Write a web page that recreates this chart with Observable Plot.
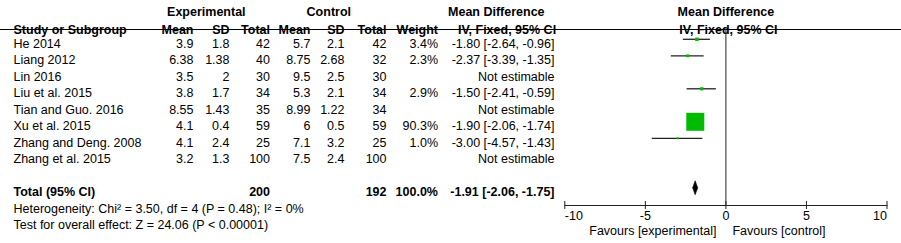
<!DOCTYPE html>
<html>
<head>
<meta charset="utf-8">
<script src="https://cdn.jsdelivr.net/npm/d3@7"></script>
<script src="https://cdn.jsdelivr.net/npm/@observablehq/plot@0.6"></script>
<style>
  html, body { margin: 0; padding: 0; background: #fff; }
  #chart svg { display: block; }
</style>
</head>
<body>
<div id="chart"></div>
<script>
// ---------- data ----------
const studies   = ["He 2014", "Liang 2012", "Lin 2016", "Liu et al. 2015", "Tian and Guo. 2016", "Xu et al. 2015", "Zhang and Deng. 2008", "Zhang et al. 2015"];
const expMean   = [3.9, 6.38, 3.5, 3.8, 8.55, 4.1, 4.1, 3.2];
const expSD     = [1.8, 1.38, 2, 1.7, 1.43, 0.4, 2.4, 1.3];
const expTotal  = [42, 40, 30, 34, 35, 59, 25, 100];
const ctlMean   = [5.7, 8.75, 9.5, 5.3, 8.99, 6, 7.1, 7.5];
const ctlSD     = [2.1, 2.68, 2.5, 2.1, 1.22, 0.5, 3.2, 2.4];
const ctlTotal  = [42, 32, 30, 34, 34, 59, 25, 100];
const weight    = [3.4, 2.3, null, 2.9, null, 90.3, 1.0, null];
const meanDiff  = [-1.80, -2.37, null, -1.50, null, -1.90, -3.00, null];
const ciLow     = [-2.64, -3.39, null, -2.41, null, -2.06, -4.57, null];
const ciHigh    = [-0.96, -1.35, null, -0.59, null, -1.74, -1.43, null];

const totalLabel   = "Total (95% CI)";
const totalExp     = 200;
const totalCtl     = 192;
const totalWeight  = 100.0;
const totalMD      = -1.91;
const totalLow     = -2.06;
const totalHigh    = -1.75;
const heterogeneity = "Heterogeneity: Chi\u00B2 = 3.50, df = 4 (P = 0.48); I\u00B2 = 0%";
const overallEffect = "Test for overall effect: Z = 24.06 (P < 0.00001)";

const axisTicks   = [-10, -5, 0, 5, 10];
const favoursLeft  = "Favours [experimental]";
const favoursRight = "Favours [control]";

const headerGroups = ["Experimental", "Control", "Mean Difference", "Mean Difference"];
const headerCols   = ["Study or Subgroup", "Mean", "SD", "Total", "Mean", "SD", "Total", "Weight", "IV, Fixed, 95% CI", "IV, Fixed, 95% CI"];

// ---------- build table ----------
const fmt2 = v => v.toFixed(2);
const rows = studies.map((s, i) => ({
  i, study: s,
  expMean: expMean[i], expSD: expSD[i], expTotal: expTotal[i],
  ctlMean: ctlMean[i], ctlSD: ctlSD[i], ctlTotal: ctlTotal[i],
  weight: weight[i], md: meanDiff[i], lo: ciLow[i], hi: ciHigh[i],
  mdText: meanDiff[i] == null ? "Not estimable" : `${fmt2(meanDiff[i])} [${fmt2(ciLow[i])}, ${fmt2(ciHigh[i])}]`,
  wText: weight[i] == null ? "" : `${weight[i].toFixed(1)}%`
}));
const estimable = rows.filter(d => d.md != null);
const totalRow = studies.length + 1;   // one blank row after studies
const totalData = [{
  i: totalRow, label: totalLabel, exp: totalExp, ctl: totalCtl,
  wText: `${totalWeight.toFixed(1)}%`,
  mdText: `${fmt2(totalMD)} [${fmt2(totalLow)}, ${fmt2(totalHigh)}]`
}];
const footRows = [{i: totalRow + 1, text: heterogeneity}, {i: totalRow + 2, text: overallEffect}];

// ---------- layout ----------
const W = 901, H = 243;
const marginTop = 29, marginBottom = 38;
const rowStep = 16.5, firstRowY = 43.3;
const xRange = [564.3, 886.5];
const markDy = -4.5;
const frameH = H - marginTop - marginBottom;
// column anchors (pixels from left)
const col = {study: 13, expMean: 193, expSD: 229, expTotal: 269.5, ctlMean: 310, ctlSD: 344, ctlTotal: 386, weight: 437.5, md: 554};
const font = "'Liberation Sans', Arial, sans-serif";
const green = "#00bb00";
const maxW = d3.max(weight);
const maxSide = 18;
const diamondHalf = 7 / rowStep;   // half height of summary diamond, in rows

const diamond = [
  {x: totalLow, y: totalRow},
  {x: totalMD, y: totalRow - diamondHalf},
  {x: totalHigh, y: totalRow},
  {x: totalMD, y: totalRow + diamondHalf},
  {x: totalLow, y: totalRow}
];

const colText = (key, dx, extra = {}) =>
  Plot.text(rows, {y: "i", text: d => d[key] == null ? "" : String(d[key]), frameAnchor: "left", dx, textAnchor: "end", fill: "black", ...extra});

const hdr1Dy = 7 - marginTop, hdr2Dy = 24.3 - marginTop;
const hdrX1 = [205.8, 328.3, 495.8];
const hdrX2 = [col.study, col.expMean, col.expSD, col.expTotal, col.ctlMean, col.ctlSD, col.ctlTotal, col.weight, 506.5];

const marks = [
  // header top line (full width) and rules
  Plot.frame({anchor: "top", stroke: "black"}),
  Plot.ruleX([0], {stroke: "#222", strokeWidth: 1}),
  // axis
  Plot.frame({anchor: "bottom", insetLeft: xRange[0], insetRight: W - xRange[1], stroke: "#222"}),
  Plot.ruleX(axisTicks, {x: d => d, insetTop: frameH - 8, dy: 4, stroke: "#222"}),
  Plot.text(axisTicks.filter(t => t !== d3.min(axisTicks) && t !== d3.max(axisTicks)), {x: d => d, text: d => String(d), frameAnchor: "bottom", dy: 14, textAnchor: "middle"}),
  Plot.text([d3.min(axisTicks)], {x: d => d, text: d => String(d), frameAnchor: "bottom", dy: 14, textAnchor: "start"}),
  Plot.text([d3.max(axisTicks)], {x: d => d, text: d => String(d), frameAnchor: "bottom", dy: 14, textAnchor: "end"}),
  Plot.text([favoursLeft], {x: () => 0, text: d => d, frameAnchor: "bottom", dy: 29, dx: -9.5, textAnchor: "end"}),
  Plot.text([favoursRight], {x: () => 0, text: d => d, frameAnchor: "bottom", dy: 29, dx: 6.5, textAnchor: "start"}),

  // headers
  ...headerGroups.slice(0, 3).map((h, k) => Plot.text([h], {text: d => d, frameAnchor: "top-left", dx: hdrX1[k], dy: hdr1Dy, textAnchor: "middle", fontWeight: "bold"})),
  Plot.text([headerGroups[3]], {x: () => 0, text: d => d, frameAnchor: "top", dy: hdr1Dy, textAnchor: "middle", fontWeight: "bold"}),
  ...headerCols.slice(0, 9).map((h, k) => Plot.text([h], {text: d => d, frameAnchor: "top-left", dx: hdrX2[k], dy: hdr2Dy, textAnchor: k === 0 ? "start" : (k === 8 ? "middle" : "end"), fontWeight: "bold"})),
  Plot.text([headerCols[9]], {x: () => 0, text: d => d, frameAnchor: "top", dy: hdr2Dy, dx: 2.5, textAnchor: "middle", fontWeight: "bold"}),

  // study rows
  Plot.text(rows, {y: "i", text: "study", frameAnchor: "left", dx: col.study, textAnchor: "start"}),
  colText("expMean", col.expMean),
  colText("expSD", col.expSD),
  colText("expTotal", col.expTotal),
  colText("ctlMean", col.ctlMean),
  colText("ctlSD", col.ctlSD),
  colText("ctlTotal", col.ctlTotal),
  colText("wText", col.weight),
  colText("mdText", col.md),

  // total row
  Plot.text(totalData, {y: "i", text: "label", frameAnchor: "left", dx: col.study, textAnchor: "start", fontWeight: "bold"}),
  Plot.text(totalData, {y: "i", text: d => String(d.exp), frameAnchor: "left", dx: col.expTotal, textAnchor: "end", fontWeight: "bold"}),
  Plot.text(totalData, {y: "i", text: d => String(d.ctl), frameAnchor: "left", dx: col.ctlTotal, textAnchor: "end", fontWeight: "bold"}),
  Plot.text(totalData, {y: "i", text: "wText", frameAnchor: "left", dx: col.weight, textAnchor: "end", fontWeight: "bold"}),
  Plot.text(totalData, {y: "i", text: "mdText", frameAnchor: "left", dx: col.md, textAnchor: "end", fontWeight: "bold"}),
  Plot.text(footRows, {y: "i", text: "text", frameAnchor: "left", dx: col.study, textAnchor: "start"}),

  // forest marks
  Plot.ruleY(estimable, {y: "i", x1: "lo", x2: "hi", dy: markDy, stroke: "#222", strokeWidth: 1.3}),
  Plot.dot(estimable, {x: "md", y: "i", r: "weight", symbol: "square", fill: green, stroke: "none", dy: markDy}),
  Plot.line(diamond, {x: "x", y: "y", fill: "black", stroke: "black", strokeWidth: 0.6, dy: markDy})
];

const chart = Plot.plot({
  width: W, height: H,
  marginTop, marginBottom, marginLeft: 0, marginRight: 0,
  style: {fontFamily: font, fontSize: "12.5px", color: "black", background: "white"},
  x: {domain: [d3.min(axisTicks), d3.max(axisTicks)], range: xRange, axis: null},
  y: {domain: [0, 1], range: [firstRowY, firstRowY + rowStep], axis: null},
  r: {type: "sqrt", domain: [0, maxW], range: [0, maxSide / Math.sqrt(Math.PI)]},
  marks
});
document.getElementById("chart").append(chart);
</script>
</body>
</html>
